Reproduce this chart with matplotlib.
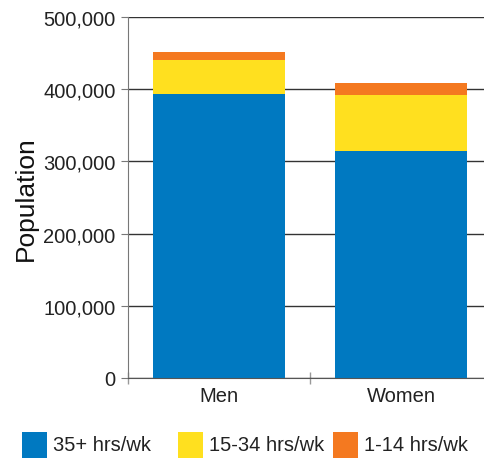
import matplotlib
matplotlib.use("Agg")
import matplotlib.pyplot as plt
from matplotlib.ticker import FuncFormatter
from matplotlib.patches import Rectangle

categories = ["Men", "Women"]
full_time = [393000, 314000]      # 35+ hrs/wk
part_mid = [47000, 78000]         # 15-34 hrs/wk
part_low = [11500, 16500]         # 1-14 hrs/wk
series_labels = ["35+ hrs/wk", "15-34 hrs/wk", "1-14 hrs/wk"]
colors = ["#0079C1", "#FFE01F", "#F47920"]
yticks = [0, 100000, 200000, 300000, 400000, 500000]

plt.rcParams['font.family'] = ['Liberation Sans', 'DejaVu Sans']

W, H = 485, 460
fig = plt.figure(figsize=(4.85, 4.6), dpi=100)
ax = fig.add_axes([128/W, 1-379/H, (W-128)/W, (379-18)/H])

x = list(range(len(categories)))
w = 0.73
ax.bar(x, full_time, w, color=colors[0], zorder=3)
ax.bar(x, part_mid, w, bottom=full_time, color=colors[1], zorder=3)
bot3 = [a + b for a, b in zip(full_time, part_mid)]
ax.bar(x, part_low, w, bottom=bot3, color=colors[2], zorder=3)

ax.set_xlim(-0.5, -0.5 + (W-128)/182)
ax.set_ylim(0, 500000)
ax.set_yticks(yticks)
ax.yaxis.set_major_formatter(FuncFormatter(lambda v, p: f"{int(v):,}"))
ax.grid(axis='y', color='#333333', linewidth=1.0, zorder=1)
ax.set_axisbelow(True)

ax.set_xticks(x)
ax.set_xticklabels(categories)
ax.tick_params(axis='x', which='major', length=0, pad=6, labelsize=14.5, colors='#222222')
ax.set_xticks([-0.5, 0.5], minor=True)
ax.tick_params(axis='x', which='minor', length=8, direction='inout', color='#999999', width=1)
ax.tick_params(axis='y', length=5, pad=4, labelsize=14.5, colors='#222222', color='#777777')
for s in ['top', 'right']:
    ax.spines[s].set_visible(False)
ax.spines['left'].set_color('#777777')
ax.spines['bottom'].set_color('#555555')
ax.spines['bottom'].set_zorder(4)

ax.set_ylabel("Population", fontsize=19, color='#111111', labelpad=4)

# legend in equal-width slots
sq_x = [22, 178, 333]
for i, lab in enumerate(series_labels):
    fig.patches.append(Rectangle((sq_x[i]/W, 1-459/H), 25/W, 26/H, transform=fig.transFigure,
                                 facecolor=colors[i], edgecolor='none'))
    fig.text((sq_x[i]+31)/W, 1-446/H, lab, fontsize=14.5, color='#222222', va='center', ha='left')

fig.savefig("out.png", dpi=100)
